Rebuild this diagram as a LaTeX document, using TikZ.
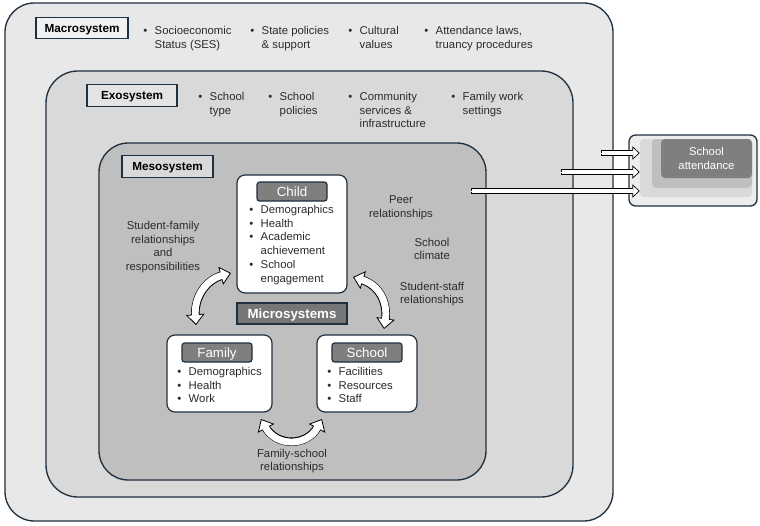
\documentclass[tikz,border=0pt]{standalone}
\usepackage{fontspec}
\setmainfont{Liberation Sans}
\usetikzlibrary{positioning,arrows.meta,calc}

\definecolor{navy}{HTML}{1F3040}
\definecolor{macrofill}{HTML}{E8E8E8}
\definecolor{exofill}{HTML}{D9D9D9}
\definecolor{mesofill}{HTML}{BFBFBF}
\definecolor{hdrgray}{HTML}{7F7F7F}
\definecolor{microgray}{HTML}{767676}
\definecolor{inktext}{HTML}{2B2B2B}

\newcommand{\bt}{\makebox[8.6pt][l]{\textbullet}}
\newcommand{\txtfont}{\fontsize{8.5}{10.3}\selectfont}

\begin{document}
\begin{tikzpicture}[
  x=0.75pt, y=-0.75pt,
  sysbox/.style={draw=navy, line width=1pt, rounded corners=22pt, inner sep=0},
  lblbox/.style={draw=navy, line width=0.9pt, inner sep=0, minimum height=16pt, text height=6.3pt, text depth=0pt, font=\fontsize{8.8}{10}\selectfont\bfseries},
  card/.style={draw=navy, line width=0.9pt, fill=white, rounded corners=6pt, inner sep=0},
  hdr/.style={draw=navy, line width=0.9pt, fill=hdrgray, rounded corners=2pt, text=white, inner sep=0, minimum width=52.5pt, minimum height=14.25pt, text height=7.2pt, text depth=0pt, font=\fontsize{10}{12}\selectfont},
  bul/.style={anchor=base west, inner sep=0, text=inktext, font=\txtfont},
  note/.style={align=center, inner sep=0, text=inktext, font=\txtfont},
  layer/.style={rounded corners=3pt, inner sep=0},
  bigarc/.style={draw=white, line width=0.6pt,
    {Triangle[length=8pt,width=14pt,color=black,fill=white]}-{Triangle[length=8pt,width=14pt,color=black,fill=white]},
    preaction={draw=black, line width=6.4pt, arrows=-, shorten <=6pt, shorten >=6pt},
    postaction={draw=white, line width=5.2pt, arrows=-, shorten <=7pt, shorten >=7pt}},
  flowarr/.style={draw=white, line width=0.5pt,
    -{Triangle[length=5.5pt,width=10pt,color=black,fill=white]},
    preaction={draw=black, line width=4.2pt, arrows=-, shorten >=4pt},
    postaction={draw=white, line width=3.2pt, arrows=-, shorten <=0.5pt, shorten >=4.8pt}}
]
\useasboundingbox (0,0) rectangle (760,525);

%% ============ Nested system boxes ============
\node[sysbox, fill=macrofill, minimum width=456pt, minimum height=388.5pt] (macro) at (309,262) {};
\node[sysbox, fill=exofill, minimum width=395.25pt, minimum height=319.5pt, rounded corners=24pt] (exo) at (309.5,284) {};
\node[sysbox, fill=mesofill, minimum width=290.25pt, minimum height=252.75pt] (meso) at (292.5,311.5) {};

%% ============ Macrosystem row ============
\node[lblbox, fill=macrofill!60!white, minimum width=69pt] (macrolbl) at (82,28) {Macrosystem};
\node[bul] (ses)    at (143,34.5) {\bt\begin{tabular}[t]{@{}l@{}}Socioeconomic\\Status (SES)\end{tabular}};
\node[bul] (state)  at (250,34.5) {\bt\begin{tabular}[t]{@{}l@{}}State policies\\\& support\end{tabular}};
\node[bul] (cult)   at (348,34.5) {\bt\begin{tabular}[t]{@{}l@{}}Cultural\\values\end{tabular}};
\node[bul] (laws)   at (424,34.5) {\bt\begin{tabular}[t]{@{}l@{}}Attendance laws,\\truancy procedures\end{tabular}};

%% ============ Exosystem row ============
\node[lblbox, fill=exofill!70!white, minimum width=67.5pt] (exolbl) at (132,95.5) {Exosystem};
\node[bul] (stype)  at (198,100.5) {\bt\begin{tabular}[t]{@{}l@{}}School\\type\end{tabular}};
\node[bul] (spol)   at (268,100.5) {\bt\begin{tabular}[t]{@{}l@{}}School\\policies\end{tabular}};
\node[bul] (comm)   at (348,100.5) {\bt\begin{tabular}[t]{@{}l@{}}Community\\services \&\\infrastructure\end{tabular}};
\node[bul] (fwork)  at (451,100.5) {\bt\begin{tabular}[t]{@{}l@{}}Family work\\settings\end{tabular}};

%% ============ Mesosystem ============
\node[lblbox, fill=mesofill!60!white, minimum width=68.25pt] (mesolbl) at (167.5,166.5) {Mesosystem};

%% Child card
\node[card, minimum width=82.5pt, minimum height=88.5pt] (child) at (292,234) {};
\node[hdr] (childhdr) at (292,191.5) {Child};
\node[bul] (childlist) at (249,213.5) {\begin{tabular}[t]{@{}l@{}l@{}}\bt&Demographics\\\bt&Health\\\bt&Academic\\&achievement\\\bt&School\\&engagement\end{tabular}};

\node[lblbox, fill=microgray, text=white, minimum width=82.5pt, minimum height=15.75pt, text height=7.2pt, font=\fontsize{10}{12}\selectfont\bfseries] (micro) at (292,313.5) {Microsystems};

%% Family card
\node[card, minimum width=78.75pt, minimum height=57.75pt] (family) at (219.5,373.5) {};
\node[hdr] (familyhdr) at (217,352.5) {Family};
\node[bul] (familylist) at (177,375.5) {\begin{tabular}[t]{@{}l@{}l@{}}\bt&Demographics\\\bt&Health\\\bt&Work\end{tabular}};

%% School card
\node[card, minimum width=75pt, minimum height=57.75pt] (school) at (367,373.5) {};
\node[hdr] (schoolhdr) at (367,352.5) {School};
\node[bul] (schoollist) at (327,375.5) {\begin{tabular}[t]{@{}l@{}l@{}}\bt&Facilities\\\bt&Resources\\\bt&Staff\end{tabular}};

%% Relationship notes
\node[note] (stufam)  at (163,247) {Student-family\\relationships\\and\\responsibilities};
\node[note] (peer)    at (401,208) {Peer\\relationships};
\node[note] (climate) at (432,249) {School\\climate};
\node[note] (stustaff) at (432,294) {Student-staff\\relationships};
\node[note] (famsch)  at (292,461) {Family-school\\relationships};

%% Curved two-way arrows between the microsystems
\coordinate (cfA) at (196,325);
\coordinate (cfB) at (231,273);
\coordinate (csA) at (353,277);
\coordinate (csB) at (384,329);
\coordinate (fsA) at (261,419);
\coordinate (fsB) at (322,419);
\draw[bigarc] (cfA) .. controls (194,298) and (205,280) .. (cfB);
\draw[bigarc] (csA) .. controls (379,285) and (388,302) .. (csB);
\draw[bigarc] (fsA) .. controls (276,447) and (307,447) .. (fsB);

%% ============ School attendance (outcome) ============
\node[draw=navy, line width=1pt, fill=macrofill!80!white, rounded corners=5pt, inner sep=0, minimum width=96pt, minimum height=53.25pt] (att) at (693,170.5) {};
\node[layer, fill=exofill, minimum width=84pt, minimum height=43.5pt] (attA) at (696,168) {};
\node[layer, fill=mesofill, minimum width=75pt, minimum height=36.75pt] (attB) at (702,163.5) {};
\node[layer, fill=hdrgray, text=white, minimum width=68.25pt, minimum height=29.25pt, align=center, font=\txtfont] (attC) at (706.5,158.5) {School\\attendance};

%% Each system level feeds attendance
\coordinate (fromMacro) at (601,153);
\coordinate (fromExo)   at (561,172);
\coordinate (fromMeso)  at (471,191);
\draw[flowarr] (fromMacro) -- (attA.west |- fromMacro);
\draw[flowarr] (fromExo)   -- (attA.west |- fromExo);
\draw[flowarr] (fromMeso)  -- (attA.west |- fromMeso);

\end{tikzpicture}
\end{document}
